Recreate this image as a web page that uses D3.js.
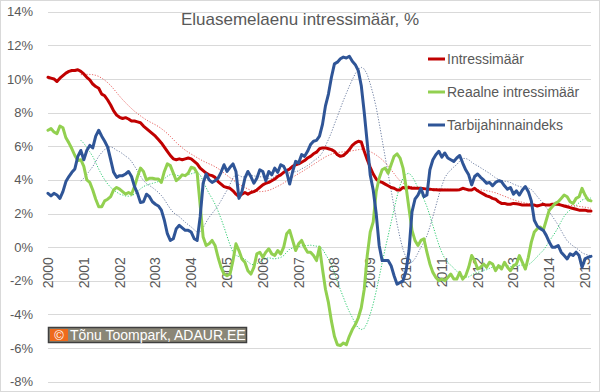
<!DOCTYPE html>
<html>
<head>
<meta charset="utf-8">
<script src="https://cdn.jsdelivr.net/npm/d3@7"></script>
<style>
  body { margin: 0; background: #fff; }
  text { font-family: "Liberation Sans", Arial, sans-serif; }
</style>
</head>
<body>
<div class="infographic"></div>
<script>
// monthly data Jan 2000 - Mar 2015
var years = ["2000","2001","2002","2003","2004","2005","2006","2007","2008","2009","2010","2011","2012","2013","2014","2015"];
var yTicks = [-8,-6,-4,-2,0,2,4,6,8,10,12,14];
var seriesNames = ["Intressimäär", "Reaalne intressimäär", "Tarbijahinnaindeks"];

var intress = [10.1,10.05,10.0,9.85,10.05,10.2,10.35,10.45,10.5,10.5,10.55,10.45,
  10.3,10.1,9.95,9.7,9.55,9.45,9.1,9.0,8.75,8.45,8.1,7.85,
  7.72,7.65,7.7,7.62,7.5,7.5,7.45,7.4,7.2,7.05,6.9,6.75,
  6.6,6.4,6.2,5.95,5.7,5.45,5.25,5.2,5.25,5.2,5.25,5.3,
  5.25,5.1,4.95,4.7,4.55,4.4,4.3,4.25,4.15,3.9,3.75,3.6,
  3.55,3.5,3.35,3.15,3.0,3.15,3.25,3.15,3.25,3.3,3.4,3.55,
  3.7,3.8,3.85,3.95,4.05,4.2,4.3,4.45,4.55,4.65,4.8,4.9,
  4.95,5.05,5.15,5.3,5.4,5.55,5.65,5.85,5.9,5.9,5.85,5.8,
  5.7,5.5,5.4,5.45,5.6,5.8,6.05,6.2,6.3,6.25,5.7,5.2,
  4.75,4.35,4.05,3.9,3.85,3.75,3.65,3.55,3.5,3.4,3.4,3.55,
  3.5,3.55,3.5,3.5,3.5,3.5,3.48,3.45,3.45,3.42,3.42,3.4,
  3.4,3.4,3.4,3.4,3.4,3.4,3.42,3.5,3.45,3.4,3.4,3.5,
  3.35,3.25,3.15,3.05,3.0,2.9,2.85,2.7,2.6,2.6,2.55,2.55,
  2.6,2.58,2.55,2.5,2.5,2.5,2.5,2.5,2.45,2.5,2.55,2.5,
  2.5,2.55,2.55,2.55,2.5,2.45,2.4,2.35,2.3,2.25,2.2,2.2,
  2.2,2.15,2.15];

var reaalne = [6.95,7.05,6.85,6.75,7.2,7.1,6.5,6.2,5.85,5.45,5.15,5.2,
  4.8,4.0,3.85,3.4,2.85,2.4,2.4,2.75,2.85,3.0,3.4,3.55,
  3.45,3.3,3.15,3.25,3.15,3.6,4.2,4.7,4.5,4.0,4.1,4.1,
  4.05,4.05,3.85,4.5,4.95,4.85,4.4,3.95,4.1,4.3,4.25,4.4,
  4.75,4.7,4.4,2.5,0.6,0.1,0.2,0.4,0.1,-0.6,-1.2,-1.6,
  -1.7,-1.6,-0.8,0.2,-0.2,-0.7,-0.9,-1.4,-1.6,-1.2,-0.4,-0.3,
  -0.6,-0.3,-0.1,-0.4,-0.5,-0.2,-0.4,0.0,0.8,1.0,0.4,-0.2,
  0.2,0.4,0.0,-0.3,-0.3,-0.5,-0.8,0.0,-1.3,-2.5,-3.3,-4.4,
  -5.3,-5.8,-5.85,-5.7,-5.8,-5.3,-4.9,-4.6,-4.2,-3.6,-2.5,-0.5,
  0.9,1.5,3.3,4.1,4.6,4.7,4.4,4.9,5.4,5.55,5.3,4.7,
  3.6,2.3,1.0,0.4,0.1,0.4,0.5,-0.3,-1.0,-1.5,-1.8,-2.0,
  -1.9,-2.0,-1.8,-1.6,-1.9,-1.9,-1.5,-1.9,-1.7,-1.2,-0.5,-0.8,
  -1.3,-1.2,-1.0,-1.2,-0.9,-1.0,-1.4,-1.1,-1.3,-0.9,-1.2,-1.4,
  -1.1,-1.0,-0.5,-0.9,-1.3,-0.6,0.3,0.9,1.1,1.2,1.0,1.6,
  2.2,2.4,2.6,2.7,2.9,3.1,3.0,2.7,2.6,2.9,3.0,3.5,
  3.1,2.8,2.75];

var thi = [3.2,3.05,3.2,3.1,2.9,3.3,3.9,4.2,4.45,4.65,5.4,5.75,
  5.2,5.75,6.05,5.9,6.6,6.95,6.6,6.3,5.95,5.2,4.45,4.15,
  4.25,4.25,4.35,4.5,4.2,3.6,3.2,2.65,2.7,3.15,3.0,2.7,
  2.55,2.45,2.2,1.6,0.8,0.4,0.5,1.1,1.3,1.15,1.0,1.0,
  0.9,0.5,0.4,1.8,3.8,4.35,4.0,3.85,3.95,4.1,4.45,4.9,
  4.5,4.75,4.95,4.5,2.9,3.3,4.1,4.5,4.2,3.8,4.1,4.6,
  4.5,3.95,4.5,4.3,4.7,4.45,4.9,4.8,4.45,3.75,4.5,5.1,
  5.0,5.5,5.4,5.7,6.1,6.3,6.35,6.6,7.3,8.4,9.1,10.1,
  10.9,11.0,11.2,11.3,11.25,11.35,11.05,10.85,10.5,9.6,8.0,6.2,
  4.3,3.4,2.0,0.1,-0.8,-0.8,-0.8,-1.1,-1.7,-2.2,-2.1,-2.0,
  -1.4,-0.2,2.1,2.85,3.1,3.5,3.0,3.1,4.6,5.2,5.5,5.7,
  5.35,5.6,5.3,5.2,5.1,5.3,5.45,5.0,4.6,4.3,3.7,4.2,
  4.35,4.15,4.0,3.8,3.85,3.65,3.85,3.95,3.9,3.65,3.45,3.55,
  3.15,3.35,3.1,3.4,3.6,3.3,2.75,1.6,1.25,1.1,1.0,0.7,
  0.3,0.0,0.0,0.1,-0.3,-0.5,-0.7,-0.4,-0.5,-0.3,-0.5,-1.2,
  -0.7,-0.6,-0.55];

var lineColors = ["#c00000", "#92d050", "#2f5597"];
var trendColors = ["#e8615f", "#2ecc71", "#6f7fa3"];
var trendPeriod = 12; // Excel moving average trendline

var width = 600, height = 392;

var svg = d3.select(".infographic")
            .append("svg")
            .attr("width", width)
            .attr("height", height);

svg.append("rect")
   .attr("x", 0.5).attr("y", 0.5)
   .attr("width", width - 1).attr("height", height - 1)
   .attr("fill", "#fff")
   .attr("stroke", "#d9d9d9");

var x = d3.scaleLinear()
          .domain([0, intress.length - 1])
          .range([48, 591]);

var y = d3.scaleLinear()
          .domain([-8, 14])
          .range([381.7, 11.7]);

// gridlines
svg.append("g")
   .attr("class", "grid")
  .selectAll("line")
   .data(yTicks)
  .enter().append("line")
   .attr("x1", 48).attr("x2", 591)
   .attr("y1", function(d){ return Math.round(y(d)) + 0.5 })
   .attr("y2", function(d){ return Math.round(y(d)) + 0.5 })
   .style("stroke", "#d9d9d9")
   .style("stroke-width", 1);

svg.append("g")
   .attr("class", "ylabels")
  .selectAll("text")
   .data(yTicks)
  .enter().append("text")
   .attr("x", 33)
   .attr("y", function(d){ return y(d) })
   .attr("dy", "0.35em")
   .attr("text-anchor", "end")
   .style("font-size", "13px")
   .style("fill", "#595959")
   .text(function(d){ return d + "%" });

svg.append("g")
   .attr("class", "xlabels")
  .selectAll("text")
   .data(years)
  .enter().append("text")
   .attr("transform", function(d, i){
     return "translate(" + x(i * 12) + "," + (y(0) + 10) + ") rotate(-90)";
   })
   .attr("dy", "0.35em")
   .attr("text-anchor", "end")
   .style("font-size", "14px")
   .style("fill", "#595959")
   .text(function(d){ return d });

svg.append("text")
   .attr("x", 300)
   .attr("y", 25)
   .attr("text-anchor", "middle")
   .style("font-size", "17px")
   .style("fill", "#595959")
   .text("Eluasemelaenu intressimäär, %");

var series = [intress, reaalne, thi];

function movingAverage(values, n) {
  var out = [];
  for (var i = n - 1; i < values.length; i++) {
    out.push([i, d3.mean(values.slice(i - n + 1, i + 1))]);
  }
  return out;
}

var trendLine = d3.line()
    .x(function(d){ return x(d[0]) })
    .y(function(d){ return y(d[1]) });

var line = d3.line()
    .x(function(d, i){ return x(i) })
    .y(function(d){ return y(d) });

// trends under the data lines
svg.append("g")
   .attr("class", "trends")
  .selectAll("path")
   .data(series)
  .enter().append("path")
   .attr("d", function(d){ return trendLine(movingAverage(d, trendPeriod)) })
   .style("fill", "none")
   .style("stroke", function(d, i){ return trendColors[i] })
   .style("stroke-width", 1)
   .style("stroke-dasharray", "1.2,1.6");

svg.append("g")
   .attr("class", "lines")
  .selectAll("path")
   .data(series)
  .enter().append("path")
   .attr("d", function(d){ return line(d) })
   .style("fill", "none")
   .style("stroke", function(d, i){ return lineColors[i] })
   .style("stroke-width", 3)
   .style("stroke-linejoin", "round")
   .style("stroke-linecap", "round");

var legend = svg.append("g").attr("class", "legend");
var legendY = [59, 92, 125];

legend.selectAll("line")
   .data(seriesNames)
  .enter().append("line")
   .attr("x1", 428).attr("x2", 445)
   .attr("y1", function(d, i){ return legendY[i] })
   .attr("y2", function(d, i){ return legendY[i] })
   .style("stroke", function(d, i){ return lineColors[i] })
   .style("stroke-width", 3);

legend.selectAll("text")
   .data(seriesNames)
  .enter().append("text")
   .attr("x", 447)
   .attr("y", function(d, i){ return legendY[i] })
   .attr("dy", "0.35em")
   .style("font-size", "14px")
   .style("fill", "#595959")
   .text(function(d){ return d });

// copyright box
var cr = svg.append("g").attr("class", "copyright");
cr.append("rect")
  .attr("x", 48.5).attr("y", 327.5)
  .attr("width", 198).attr("height", 15)
  .attr("fill", "#8a8677")
  .attr("stroke", "#3f3f3f")
  .attr("stroke-width", 1.5);
cr.append("rect")
  .attr("x", 50).attr("y", 329)
  .attr("width", 18).attr("height", 12)
  .attr("fill", "#ee6a1c");
cr.append("text")
  .attr("x", 59).attr("y", 339.5)
  .attr("text-anchor", "middle")
  .style("font-size", "13px")
  .style("fill", "#fff")
  .text("©");
cr.append("text")
  .attr("x", 70).attr("y", 340)
  .style("font-size", "14px")
  .style("fill", "#fff")
  .text("Tõnu Toompark, ADAUR.EE");
</script>
</body>
</html>
